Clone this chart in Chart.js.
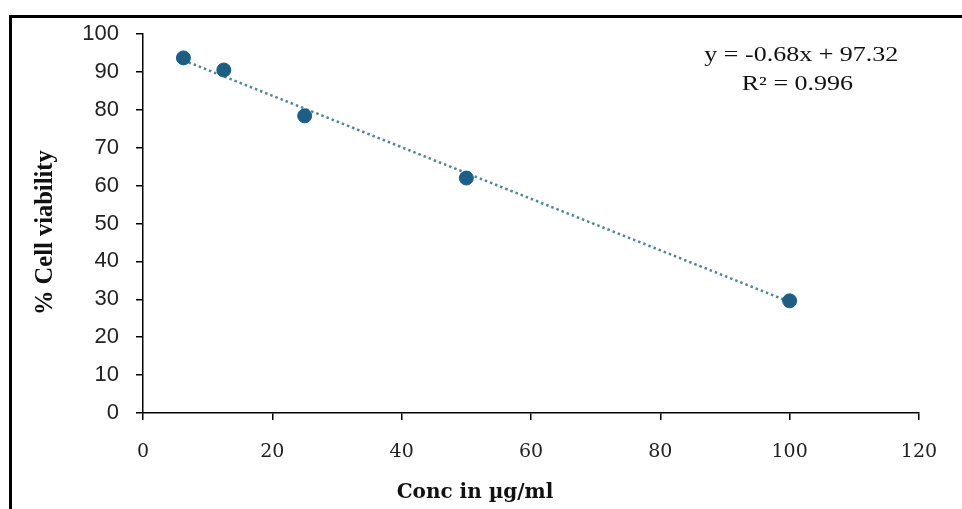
<!DOCTYPE html>
<html>
<head>
<meta charset="utf-8">
<script src="https://cdn.jsdelivr.net/npm/chart.js@4"></script>
<style>
  html, body { margin: 0; padding: 0; background: #fff; }
  #wrap { width: 962px; height: 509px; position: relative; }
</style>
</head>
<body>
<div id="wrap"><canvas id="chart"></canvas></div>
<script>
// Data
const concValues = [6.25, 12.5, 25, 50, 100]
const viabilityValues = [93.7, 90.5, 78.4, 62, 29.6]

// Linear trendline as printed on the chart
const slope = -0.68
const intercept = 97.32
const equationLines = ['y = -0.68x + 97.32', 'R\u00b2 = 0.996']

const trendX = [concValues[0], concValues[concValues.length - 1]]
const trendY = trendX.map(x => slope * x + intercept)

const pointColor = '#1c5f86'
const trendColor = '#4f8796'

// Frame lines along the top and left edges + the equation text
const decorations = {
  id: 'decorations',
  beforeDraw(chart) {
    const ctx = chart.ctx
    ctx.save()
    ctx.fillStyle = '#fff'
    ctx.fillRect(0, 0, chart.width, chart.height)
    ctx.strokeStyle = '#000'
    ctx.lineWidth = 3
    ctx.beginPath()
    ctx.moveTo(10.5, chart.height)
    ctx.lineTo(10.5, 16.5)
    ctx.lineTo(chart.width, 16.5)
    ctx.stroke()
    ctx.restore()
  },
  afterDraw(chart) {
    const ctx = chart.ctx
    const x = chart.scales.x
    const y = chart.scales.y
    const stretch = 1.3
    ctx.save()
    ctx.fillStyle = '#111'
    ctx.font = '20px "Liberation Serif"'
    ctx.textAlign = 'center'
    ctx.textBaseline = 'middle'
    const lines = [[101.8, 94.3], [101.2, 86.6]]
    lines.forEach(([vx, vy], i) => {
      ctx.save()
      ctx.translate(x.getPixelForValue(vx), y.getPixelForValue(vy))
      ctx.scale(stretch, 1)
      ctx.fillText(equationLines[i], 0, 0)
      ctx.restore()
    })
    ctx.restore()
  }
}

new Chart(document.getElementById('chart'), {
  type: 'scatter',
  data: {
    datasets: [
      {
        label: 'Cell viability',
        data: concValues.map((c, i) => ({ x: c, y: viabilityValues[i] })),
        backgroundColor: pointColor,
        borderColor: pointColor,
        pointRadius: 7,
        pointHoverRadius: 7,
        order: 1
      },
      {
        label: 'Linear trend',
        type: 'line',
        data: trendX.map((c, i) => ({ x: c, y: trendY[i] })),
        borderColor: trendColor,
        borderWidth: 2.5,
        borderDash: [2.5, 3],
        pointRadius: 0,
        fill: false,
        order: 2
      }
    ]
  },
  options: {
    responsive: true,
    maintainAspectRatio: false,
    animation: false,
    layout: {
      padding: { left: 31, top: 34, right: 43, bottom: 4 }
    },
    plugins: {
      legend: { display: false },
      tooltip: { enabled: false },
      // x axis title sits left of the axis centre in the original, so use the chart title box
      title: {
        display: true,
        position: 'bottom',
        text: 'Conc in \u00b5g/ml',
        color: '#111',
        padding: 0,
        font: { family: '"DejaVu Serif"', size: 20, weight: 'bold' }
      }
    },
    scales: {
      x: {
        type: 'linear',
        min: 0,
        max: 120,
        ticks: {
          stepSize: 20,
          color: '#222',
          padding: 21,
          font: { family: '"DejaVu Serif"', size: 19 }
        },
        grid: {
          drawOnChartArea: false,
          tickLength: 7,
          color: '#000',
          lineWidth: 1.5
        },
        border: { color: '#000', width: 1.5 },
        afterFit(scale) { scale.height = 68 }
      },
      y: {
        min: 0,
        max: 100,
        ticks: {
          stepSize: 10,
          color: '#222',
          padding: 17,
          font: { family: '"Liberation Sans"', size: 22 }
        },
        grid: {
          drawOnChartArea: false,
          tickLength: 7,
          color: '#000',
          lineWidth: 1.5
        },
        border: { color: '#000', width: 1.5 },
        title: {
          display: true,
          text: '% Cell viability\u00a0\u00a0\u00a0',
          color: '#111',
          padding: 0,
          font: { family: '"Liberation Serif"', size: 24.5, weight: 'bold' }
        },
        afterFit(scale) { scale.width = 112 }
      }
    }
  },
  plugins: [decorations]
})
</script>
</body>
</html>
